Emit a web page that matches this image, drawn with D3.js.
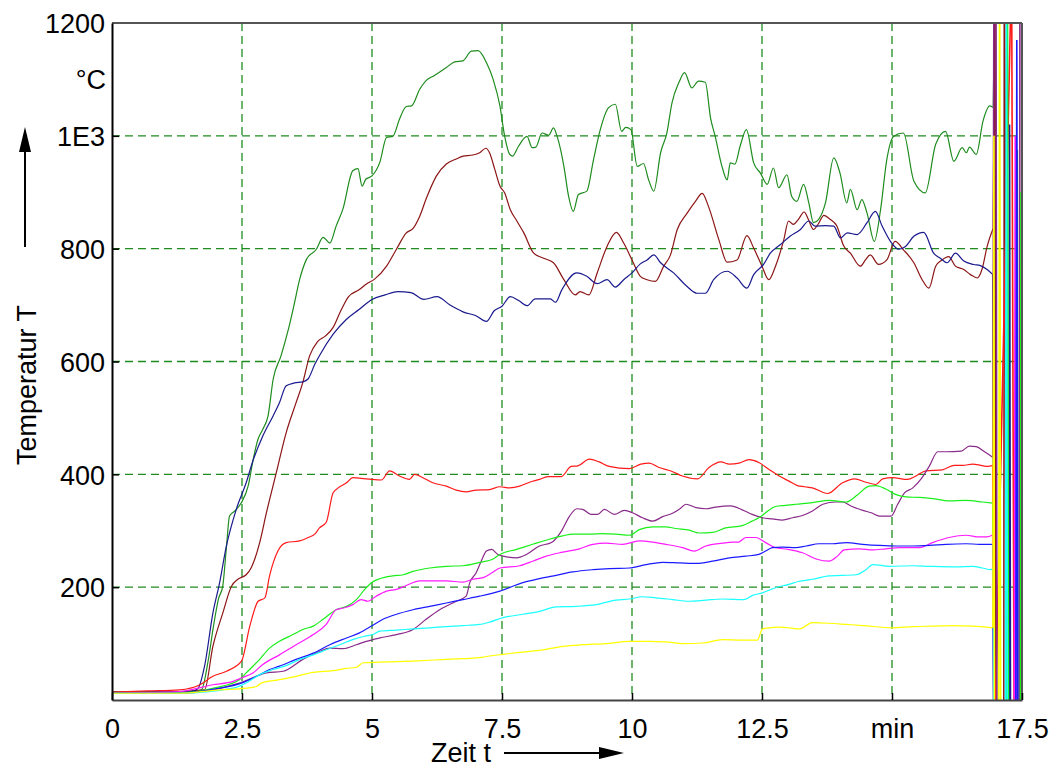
<!DOCTYPE html>
<meta charset="utf-8">
<style>
  body { margin: 0; background: #fff; }
  svg { display: block; background: #fff; }
  text { font-family: "Liberation Sans", Arial, Helvetica, sans-serif; font-size: 27px; fill: #000; }
  .grid line { stroke: #1f8c1f; stroke-width: 1.3; stroke-dasharray: 8,5; }
  .series path { fill: none; stroke-width: 1.2; }
  .series path.tail { stroke-width: 1.6; }
</style>
<body>
<svg width="1056" height="767"></svg>
<script src="https://d3js.org/d3.v7.min.js"></script>
<script>
// ---- data: [time in min, temperature in °C] ----
var darkGreen = [[0,14],[1.0,14],[1.6,16],[1.72,18],[1.85,70],[1.95,130],[2.05,180],[2.13,202],[2.2,270],[2.26,326],[2.36,335],[2.49,350],[2.62,380],[2.71,424],[2.8,460],[2.9,480],[3.0,503],[3.1,569],[3.25,610],[3.4,660],[3.5,700],[3.61,746],[3.74,781],[3.93,799],[4.06,820],[4.19,810],[4.31,840],[4.44,870],[4.63,938],[4.73,942],[4.81,911],[4.88,923],[5.0,929],[5.15,953],[5.28,997],[5.4,999],[5.53,1030],[5.66,1052],[5.76,1053],[5.92,1083],[6.04,1098],[6.2,1107],[6.43,1121],[6.59,1131],[6.75,1133],[6.91,1150],[7.04,1151],[7.2,1130],[7.33,1100],[7.46,1053],[7.55,1000],[7.65,967],[7.7,964],[7.82,982],[7.98,999],[8.08,979],[8.15,980],[8.27,1005],[8.4,1001],[8.49,1014],[8.56,999],[8.69,946],[8.78,893],[8.87,866],[8.97,896],[9.13,902],[9.26,958],[9.39,1011],[9.55,1050],[9.68,1056],[9.8,1008],[9.88,1015],[9.98,1011],[10.1,946],[10.22,951],[10.32,922],[10.42,902],[10.55,970],[10.67,1005],[10.77,1059],[10.9,1094],[11.01,1112],[11.15,1085],[11.28,1097],[11.41,1095],[11.51,1032],[11.6,999],[11.73,946],[11.83,922],[11.89,952],[11.98,950],[12.08,982],[12.2,1011],[12.34,952],[12.47,934],[12.6,914],[12.72,943],[12.82,908],[12.98,931],[13.07,893],[13.17,884],[13.3,914],[13.4,881],[13.49,846],[13.59,852],[13.72,881],[13.88,961],[14.0,934],[14.13,881],[14.2,905],[14.33,869],[14.42,887],[14.52,863],[14.66,813],[14.78,869],[14.9,958],[15.03,999],[15.22,1005],[15.42,920],[15.64,899],[15.84,985],[16.03,1008],[16.19,955],[16.35,979],[16.43,970],[16.49,980],[16.62,967],[16.75,1026],[16.88,1053],[16.95,1050]];
var darkRed = [[0,14],[1.0,14],[1.78,18],[1.94,95],[2.13,154],[2.3,202],[2.42,214],[2.58,222],[2.68,235],[2.84,279],[2.97,332],[3.16,403],[3.35,474],[3.54,527],[3.67,563],[3.8,610],[3.95,635],[4.1,645],[4.25,660],[4.4,690],[4.55,715],[4.75,727],[4.9,738],[5.05,746],[5.28,769],[5.47,799],[5.66,828],[5.79,836],[5.92,858],[6.04,888],[6.24,929],[6.43,950],[6.62,959],[6.75,964],[6.94,966],[7.07,970],[7.19,978],[7.26,970],[7.36,941],[7.46,911],[7.55,899],[7.66,869],[7.78,850],[7.92,828],[8.11,792],[8.3,783],[8.49,775],[8.69,745],[8.91,718],[9.0,724],[9.17,718],[9.33,757],[9.52,804],[9.7,829],[9.84,810],[10.0,780],[10.16,751],[10.29,745],[10.45,742],[10.61,769],[10.74,789],[10.87,834],[11.06,863],[11.22,884],[11.35,898],[11.47,875],[11.67,816],[11.83,776],[12.02,780],[12.21,823],[12.34,801],[12.5,769],[12.63,745],[12.76,769],[12.92,816],[13.01,849],[13.1,843],[13.2,852],[13.31,865],[13.4,850],[13.49,834],[13.59,845],[13.69,859],[13.81,852],[13.94,840],[14.07,805],[14.2,792],[14.39,769],[14.49,780],[14.58,789],[14.74,772],[14.9,780],[15.06,813],[15.22,798],[15.42,775],[15.58,745],[15.71,730],[15.84,769],[15.96,780],[16.09,786],[16.22,769],[16.38,763],[16.51,754],[16.64,748],[16.73,763],[16.83,804],[16.95,837]];
var navy = [[0,14],[1.0,14],[1.5,15],[1.65,20],[1.78,60],[1.94,154],[2.07,208],[2.2,273],[2.39,338],[2.58,385],[2.71,424],[2.9,468],[3.1,504],[3.22,527],[3.35,557],[3.51,562],[3.67,564],[3.77,569],[3.9,595],[4.0,612],[4.25,648],[4.5,674],[4.75,692],[5.0,710],[5.25,718],[5.5,724],[5.75,722],[6.0,710],[6.25,715],[6.5,700],[6.75,688],[7.0,681],[7.2,671],[7.35,690],[7.5,698],[7.66,715],[7.82,708],[7.98,699],[8.14,711],[8.43,711],[8.53,705],[8.65,727],[8.94,757],[9.13,751],[9.33,738],[9.52,745],[9.68,732],[9.84,745],[10.0,757],[10.16,773],[10.29,780],[10.42,789],[10.55,775],[10.8,757],[11.06,733],[11.25,721],[11.41,721],[11.57,745],[11.83,760],[12.02,748],[12.21,730],[12.34,754],[12.53,772],[12.66,792],[12.85,807],[13.04,822],[13.24,834],[13.4,849],[13.52,840],[13.72,841],[13.88,840],[14.01,819],[14.14,828],[14.33,825],[14.52,846],[14.68,866],[14.81,840],[14.97,813],[15.13,799],[15.26,804],[15.42,822],[15.61,829],[15.8,792],[15.93,783],[16.06,775],[16.22,792],[16.38,778],[16.57,772],[16.7,770],[16.83,763],[16.94,754]];
var red = [[0,14],[0.7,16],[1.3,18],[1.69,27],[1.94,42],[2.2,51],[2.49,69],[2.65,131],[2.81,175],[2.94,181],[3.03,220],[3.19,264],[3.35,279],[3.61,282],[3.77,288],[3.9,294],[3.99,305],[4.12,315],[4.25,367],[4.35,376],[4.51,385],[4.63,394],[4.79,393],[4.99,391],[5.18,390],[5.34,406],[5.53,397],[5.72,391],[5.82,400],[5.98,394],[6.17,385],[6.43,379],[6.62,372],[6.81,369],[7.0,372],[7.26,373],[7.46,378],[7.65,376],[7.84,379],[8.03,386],[8.22,391],[8.38,396],[8.64,396],[8.83,414],[8.96,415],[9.18,427],[9.37,422],[9.56,414],[9.95,410],[10.17,418],[10.33,420],[10.52,412],[10.75,406],[10.97,397],[11.26,392],[11.48,412],[11.71,422],[11.87,418],[12.06,420],[12.25,426],[12.44,421],[12.63,409],[12.83,397],[13.02,388],[13.18,380],[13.32,378],[13.47,376],[13.76,366],[14.05,385],[14.28,392],[14.5,386],[14.69,382],[14.82,392],[15.01,394],[15.3,391],[15.46,397],[15.65,406],[15.97,408],[16.2,416],[16.36,416],[16.55,418],[16.71,416],[16.84,414],[16.94,416]];
var purple = [[0,12],[1.3,12],[2.45,30],[2.97,48],[3.29,51],[3.67,72],[3.99,86],[4.19,92],[4.44,91],[4.7,98],[4.89,104],[5.15,110],[5.47,116],[5.79,125],[6.04,143],[6.3,160],[6.62,175],[6.81,184],[6.88,208],[7.0,225],[7.1,246],[7.2,264],[7.3,267],[7.42,258],[7.52,255],[7.78,252],[7.97,258],[8.22,273],[8.45,279],[8.64,299],[8.8,326],[8.94,339],[9.05,338],[9.21,329],[9.34,329],[9.47,338],[9.66,329],[9.85,336],[10.01,332],[10.2,323],[10.4,317],[10.59,325],[10.78,331],[10.91,338],[11.04,347],[11.23,341],[11.42,339],[11.61,342],[11.9,344],[12.12,337],[12.31,329],[12.51,323],[12.7,321],[12.89,319],[13.09,323],[13.28,327],[13.47,335],[13.67,347],[13.92,351],[14.05,351],[14.21,344],[14.44,336],[14.6,332],[14.76,326],[14.98,326],[15.11,347],[15.24,367],[15.4,376],[15.56,392],[15.72,415],[15.88,440],[16.04,440],[16.33,441],[16.49,450],[16.62,449],[16.78,440],[16.94,430]];
var lime = [[0,12],[1.3,13],[2.0,22],[2.45,36],[2.58,48],[2.84,72],[3.03,92],[3.22,104],[3.48,116],[3.67,125],[3.87,131],[4.06,143],[4.31,160],[4.51,166],[4.7,178],[4.86,196],[4.99,208],[5.15,215],[5.4,220],[5.6,222],[5.79,228],[6.11,234],[6.43,237],[6.75,238],[7.07,244],[7.33,250],[7.46,258],[7.78,267],[8.09,276],[8.41,285],[8.67,291],[8.86,294],[9.18,294],[9.44,295],[9.69,294],[9.95,292],[10.14,302],[10.4,307],[10.65,307],[10.84,304],[11.1,301],[11.29,296],[11.55,297],[11.8,305],[12.12,309],[12.31,317],[12.44,323],[12.57,332],[12.76,343],[12.95,345],[13.15,347],[13.47,350],[13.79,354],[14.12,351],[14.34,364],[14.56,379],[14.69,380],[14.88,374],[15.08,364],[15.27,360],[15.53,359],[15.78,357],[16.1,353],[16.42,354],[16.74,351],[16.94,349]];
var magenta = [[0,12],[1.3,15],[1.94,27],[2.33,33],[2.49,39],[2.71,48],[2.9,63],[3.22,80],[3.54,98],[3.87,116],[4.12,134],[4.31,160],[4.45,163],[4.63,169],[4.79,178],[4.92,175],[5.08,184],[5.28,193],[5.47,196],[5.66,203],[5.92,211],[6.17,211],[6.43,211],[6.75,209],[6.94,214],[7.14,217],[7.3,225],[7.46,234],[7.84,238],[8.09,246],[8.35,255],[8.67,262],[8.99,268],[9.25,276],[9.5,278],[9.82,276],[10.14,282],[10.4,280],[10.65,276],[10.97,270],[11.2,264],[11.42,273],[11.74,278],[11.93,280],[12.05,280],[12.19,288],[12.38,288],[12.57,279],[12.76,270],[13.0,267],[13.28,261],[13.54,250],[13.79,246],[13.95,255],[14.08,266],[14.37,268],[14.63,266],[14.88,268],[15.14,270],[15.53,270],[15.78,279],[16.1,288],[16.42,292],[16.68,289],[16.82,289],[16.94,293]];
var blue = [[0,12],[1.3,12],[2.07,21],[2.49,30],[2.78,42],[3.03,54],[3.22,60],[3.54,72],[3.87,83],[4.19,98],[4.51,110],[4.76,119],[4.99,131],[5.21,143],[5.47,152],[5.79,160],[6.11,166],[6.43,172],[6.75,178],[7.07,184],[7.46,193],[7.9,208],[8.22,215],[8.54,221],[8.86,227],[9.25,231],[9.57,233],[9.95,234],[10.27,240],[10.59,244],[10.91,243],[11.23,242],[11.55,246],[11.87,252],[12.19,255],[12.44,258],[12.57,264],[12.7,270],[12.89,271],[13.15,270],[13.35,273],[13.6,277],[13.86,277],[14.12,279],[14.44,276],[14.76,274],[15.08,273],[15.4,273],[15.72,274],[16.04,276],[16.42,277],[16.68,276],[16.94,276]];
var cyan = [[0,12],[1.3,12],[2.33,21],[2.58,30],[2.84,45],[3.1,54],[3.35,61],[3.61,72],[3.87,80],[4.12,89],[4.38,98],[4.63,107],[4.86,113],[5.02,116],[5.15,122],[5.47,124],[5.79,126],[6.11,128],[6.43,130],[6.75,132],[7.07,134],[7.26,138],[7.52,146],[7.9,152],[8.22,157],[8.54,165],[8.93,166],[9.31,169],[9.69,177],[9.95,179],[10.2,183],[10.46,181],[10.78,178],[11.1,175],[11.42,177],[11.74,179],[12.15,178],[12.31,185],[12.51,190],[12.76,199],[13.02,205],[13.2,210],[13.47,214],[13.79,220],[14.31,222],[14.5,231],[14.63,240],[14.95,237],[15.4,238],[15.72,237],[16.23,236],[16.55,237],[16.74,234],[16.9,231],[16.95,234]];
var yellow = [[0,12],[1.3,12],[2.07,18],[2.58,21],[2.78,24],[2.87,30],[3.22,36],[3.54,42],[3.87,49],[4.25,52],[4.5,56],[4.7,58],[4.83,66],[5.15,67],[5.79,69],[6.43,72],[7.07,75],[7.26,78],[7.52,81],[7.9,85],[8.29,89],[8.67,95],[9.05,98],[9.5,100],[9.95,104],[10.33,104],[10.65,103],[10.97,100],[11.36,101],[11.74,107],[12.12,106],[12.41,106],[12.51,126],[12.63,128],[12.83,129],[13.02,128],[13.22,126],[13.47,137],[13.79,136],[14.12,134],[14.44,132],[15.0,128],[15.4,130],[15.78,131],[16.17,132],[16.55,131],[16.94,128]];

// sensor failure at the end of the run: values jump off the scale
var tailDarkGreen = [[16.97,1178],[16.975,-100],[17.40,-100],[17.41,975],[17.42,-100]];
var tailDarkRed = [[16.98,1300],[17.0,-100],[17.15,-100],[17.16,1300],[17.2,600],[17.22,-100]];
var tailNavy = [[16.96,-100],[17.25,-100],[17.26,1020],[17.28,-100]];
var tailRed = [[16.97,-100],[17.30,1300],[17.35,-100]];
var tailPurple = [[16.96,1300],[17.0,1300],[17.02,-100],[17.45,-100],[17.46,1300]];
var tailLime = [[16.96,-100],[17.2,-100],[17.22,1300],[17.24,-100],[17.47,-100],[17.48,900]];
var tailMagenta = [[16.96,-100],[17.35,-100],[17.37,1000],[17.39,-100]];
var tailBlue = [[16.96,-100],[17.38,-100],[17.4,1170],[17.42,-100]];
var tailCyan = [[16.96,-100],[17.18,-100],[17.2,1300],[17.22,-100]];
var tailYellow = [[16.96,1000],[16.97,-100],[17.05,-100],[17.07,1300],[17.09,-100]];

var xTickVals = [0, 2.5, 5, 7.5, 10, 12.5, 15, 17.5];
var xTickLabels = ["0", "2.5", "5", "7.5", "10", "12.5", "min", "17.5"];
var yTickVals = [200, 400, 600, 800, 1000, 1200];
var yTickLabels = ["200", "400", "600", "800", "1E3", "1200"];

var series = [
  { data: darkGreen, tail: tailDarkGreen, color: "#1e8c1e" },
  { data: darkRed, tail: tailDarkRed, color: "#8c1515" },
  { data: navy, tail: tailNavy, color: "#1a1a8e" },
  { data: red, tail: tailRed, color: "#ff1a1a" },
  { data: purple, tail: tailPurple, color: "#8a2a8a" },
  { data: lime, tail: tailLime, color: "#1aef1a" },
  { data: magenta, tail: tailMagenta, color: "#ff1aff" },
  { data: blue, tail: tailBlue, color: "#1a1aff" },
  { data: cyan, tail: tailCyan, color: "#1affff" },
  { data: yellow, tail: tailYellow, color: "#ffff00" }
];

var svg = d3.select("svg");
var plotLeft = 112, plotRight = 1022, plotTop = 23, plotBottom = 700;

var x = d3.scaleLinear().domain([0, 17.5]).range([plotLeft, plotRight]);
var y = d3.scaleLinear().domain([0, 1200]).range([plotBottom, plotTop]);

svg.append("defs").append("clipPath").attr("id", "plot")
  .append("rect").attr("x", plotLeft).attr("y", plotTop)
  .attr("width", plotRight - plotLeft).attr("height", plotBottom - plotTop);

// grid
var grid = svg.append("g").attr("class", "grid");
grid.selectAll("line.v").data(xTickVals.filter(function(d) { return d > 0 && d < 17.5; }))
  .enter().append("line").attr("class", "v")
  .attr("x1", function(d) { return x(d); }).attr("x2", function(d) { return x(d); })
  .attr("y1", plotTop).attr("y2", plotBottom);
grid.selectAll("line.h").data(yTickVals.filter(function(d) { return d < 1200; }))
  .enter().append("line").attr("class", "h")
  .attr("x1", plotLeft).attr("x2", plotRight)
  .attr("y1", function(d) { return y(d); }).attr("y2", function(d) { return y(d); });

// lines
var line = d3.line().x(function(d) { return x(d[0]); }).y(function(d) { return y(d[1]); })
  .curve(d3.curveMonotoneX);
var tailLine = d3.line().x(function(d) { return x(d[0]); }).y(function(d) { return y(d[1]); });

var g = svg.append("g").attr("class", "series").attr("clip-path", "url(#plot)");
series.forEach(function(s) {
  g.append("path").attr("d", line(s.data)).attr("stroke", s.color);
});
series.forEach(function(s) {
  var last = s.data[s.data.length - 1];
  g.append("path").attr("class", "tail").attr("d", tailLine([last].concat(s.tail))).attr("stroke", s.color);
});

// frame
svg.append("line").attr("x1", plotLeft).attr("x2", plotRight).attr("y1", plotTop).attr("y2", plotTop)
  .attr("stroke", "#555").attr("stroke-width", 2);
svg.append("line").attr("x1", plotRight).attr("x2", plotRight).attr("y1", plotTop).attr("y2", plotBottom)
  .attr("stroke", "#555").attr("stroke-width", 2);

// axes
var xAxis = d3.axisBottom(x).tickValues(xTickVals)
  .tickFormat(function(d, i) { return xTickLabels[i]; })
  .tickSizeInner(-7).tickSizeOuter(0).tickPadding(19);
var gx = svg.append("g").attr("transform", "translate(0," + plotBottom + ")").call(xAxis);
gx.select(".domain").attr("stroke", "#444").attr("stroke-width", 2);
gx.selectAll(".tick line").attr("stroke", "#000").attr("stroke-width", 1.5);
gx.selectAll(".tick text").style("font-size", "27px").style("font-family", null).attr("fill", "#000");

var yAxis = d3.axisLeft(y).tickValues(yTickVals)
  .tickFormat(function(d, i) { return yTickLabels[i]; })
  .tickSizeInner(-7).tickSizeOuter(0).tickPadding(7);
var gy = svg.append("g").attr("transform", "translate(" + plotLeft + ",0)").call(yAxis);
gy.select(".domain").attr("stroke", "#000").attr("stroke-width", 2);
gy.selectAll(".tick line").attr("stroke", "#000").attr("stroke-width", 1.5);
gy.selectAll(".tick text").style("font-size", "27px").style("font-family", null).attr("fill", "#000")
  .attr("dy", "0.36em");
gy.selectAll(".tick").filter(function(d) { return d === 1200; }).select("line").remove();

// unit
svg.append("text").attr("x", plotLeft - 6).attr("y", y(1100)).attr("dy", "0.36em")
  .attr("text-anchor", "end").text("°C");

// axis titles with arrows
svg.append("text").attr("transform", "translate(36,385) rotate(-90)")
  .attr("text-anchor", "middle").text("Temperatur T");
svg.append("line").attr("x1", 25).attr("x2", 25).attr("y1", 247).attr("y2", 148)
  .attr("stroke", "#000").attr("stroke-width", 2);
svg.append("path").attr("d", "M25,127 L19,152 L31,152 Z").attr("fill", "#000");

svg.append("text").attr("x", 461).attr("y", 762).attr("text-anchor", "middle").text("Zeit t");
svg.append("line").attr("x1", 504).attr("x2", 602).attr("y1", 753).attr("y2", 753)
  .attr("stroke", "#000").attr("stroke-width", 2);
svg.append("path").attr("d", "M624,753 L599,747 L599,759 Z").attr("fill", "#000");
</script>
</body>
